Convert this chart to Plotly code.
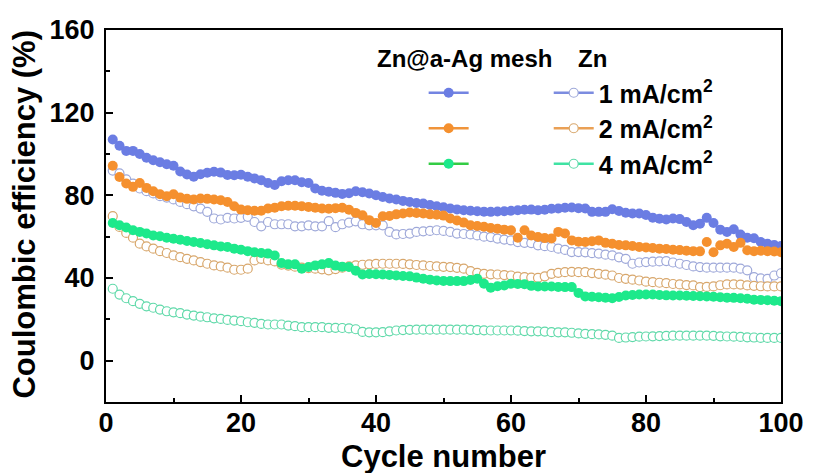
import plotly.graph_objects as go

cycles = list(range(1, 101))

# Zn@a-Ag mesh (filled markers)
ag_1mA = [107, 104, 101.5, 101.5, 100, 98.2, 97, 96, 95, 94.3,
          91.5, 90.1, 89, 90.2, 90.9, 91.4, 91, 89.8, 89.7, 90,
          89, 88.2, 87.3, 86, 85, 86.8, 87.3, 87.3, 86.3, 86,
          83.3, 82.2, 81.7, 81.2, 80.7, 81, 82, 81.5, 80.9, 80,
          79.2, 78.5, 78, 77.3, 76.8, 76.3, 76, 75.3, 74.7, 74.2,
          73.6, 73.2, 72.8, 72.5, 72.3, 72.1, 72, 72.2, 72.3, 72.5,
          72.8, 73, 73.1, 72.8, 73, 73.5, 73.6, 74, 74.1, 73.8,
          73.6, 72, 72, 72, 73.3, 72.4, 71.6, 71.2, 71.2, 70.5,
          69.2, 68.7, 68.3, 68.8, 68.5, 67.1, 65.5, 66.3, 69.1, 66.6,
          63.4, 62.3, 63.6, 61, 59.5, 59.2, 57.4, 56.6, 56, 55.5]
ag_2mA = [94.3, 88.9, 85.7, 84.1, 86, 83.6, 82, 80.5, 79.6, 80.5,
          78.9, 78.3, 78, 78.5, 78.3, 78, 77.6, 76.8, 74.7, 73.1,
          72.8, 72.5, 72.5, 73.6, 74, 74.7, 75, 75, 74.7, 74.4,
          74, 73.6, 73.5, 73.8, 74, 73, 71.5, 70.4, 68, 66.6,
          69.9, 70, 70.8, 71.2, 71.7, 71.5, 71.2, 70.8, 70.6, 70.2,
          68.8, 67.8, 66.8, 65.5, 65.2, 64.8, 64.2, 63.8, 63.4, 63.1,
          59.5, 63.1, 60.6, 59.8, 59.3, 59.1, 62.3, 61.5, 58.2, 57.6,
          57.4, 57.8, 58.2, 57, 56.6, 56, 55.8, 55.5, 55, 54.8,
          54.5, 54.2, 54, 53.7, 53.5, 53.2, 53, 52.9, 57.4, 52.5,
          55.8, 56.6, 55, 57, 53.4, 53, 53.2, 53, 52.8, 52.5]
ag_4mA = [66.6, 65.5, 64.4, 63.1, 62.3, 61.5, 60.6, 60.2, 59.5, 59,
          58.5, 57.9, 57.4, 56.9, 56.3, 55.8, 55.3, 55, 54.2, 53.7,
          53, 52.5, 52.1, 51.8, 50.9, 47.2, 46.6, 46.6, 44.5, 45.3,
          46.1, 46.6, 47.2, 46, 45.5, 45.3, 43.5, 41.7, 41.9, 41.8,
          41.7, 41.5, 41.2, 41, 40.8, 40.2, 39.6, 39.2, 38.8, 38.6,
          38.5, 38.5, 38.5, 39, 39.6, 37.2, 35.3, 36, 36.4, 37.2,
          37.1, 37, 36.2, 35.9, 35.9, 35.9, 35.7, 35.6, 35.6, 32.8,
          31.1, 30.9, 30.7, 30.5, 30.2, 30.8, 31.5, 31.8, 32, 32,
          32, 31.8, 31.6, 31.5, 31.5, 31.4, 31.3, 31.2, 31.1, 30.9,
          30.7, 30.5, 30.4, 30.2, 30, 29.5, 29.4, 29.2, 29, 28.8]

# Bare Zn (open markers)
zn_1mA = [92, 90.6, 87.7, 85.7, 83.3, 82, 80.9, 79.6, 78.9, 78,
          76.8, 75.7, 74.7, 73.6, 72, 68.8, 68.3, 69.1, 68.8, 69.1,
          69.6, 67.1, 65, 67.1, 66, 66, 66, 65, 65, 65.5,
          65, 65, 67.5, 64.6, 66, 66.8, 67.4, 66, 65.5, 65.5,
          65.5, 62.3, 61.1, 61.3, 61.5, 62.3, 62.6, 62.8, 63.1, 62.8,
          62.3, 61.5, 61.3, 61.1, 60.6, 60, 59.8, 59.1, 58.6, 58.2,
          57.4, 57, 56.9, 55.8, 55.4, 55, 54.2, 53.6, 52.5, 52.5,
          52.4, 52, 51.8, 51.3, 50.9, 50, 49.3, 46.9, 47.5, 47.7,
          47.9, 48, 48.2, 47.5, 46.9, 46.3, 45.6, 45.3, 45, 45,
          45, 45, 45, 44.5, 43.7, 40.4, 39.8, 39.6, 41.2, 42.3]
zn_2mA = [69.9, 64.7, 61.8, 59.5, 56.6, 55.3, 54.2, 53, 52.1, 50.9,
          50.1, 49.3, 48.5, 47.7, 46.9, 46.1, 45.6, 45, 44, 44,
          44.5, 48.5, 49.3, 48.5, 48, 46.5, 46, 45.5, 45, 44.8,
          44.5, 44.2, 43.7, 44.3, 45, 45.6, 46.1, 46.4, 46.6, 46.8,
          46.9, 46.9, 46.9, 46.8, 46.6, 46.3, 46.1, 45.8, 45.6, 45.4,
          45.3, 44.9, 44.5, 43.3, 42.5, 42, 41.8, 41.7, 41.4, 41.2,
          40.7, 40.4, 40.2, 40.1, 40.8, 42, 42.5, 42.8, 43, 42.8,
          42.8, 42.4, 42, 41.6, 41.2, 40, 39.6, 39.2, 38.8, 38.2,
          38, 37.7, 37.5, 37.1, 36.9, 36.6, 36.4, 35.6, 35.7, 35.9,
          36.5, 36.9, 36.9, 36.8, 36.4, 36.2, 36, 35.9, 35.9, 35.9]
zn_4mA = [34.8, 32, 30.2, 28.8, 27.5, 26.3, 25.6, 24.7, 23.9, 23.4,
          23, 22.3, 21.8, 21.3, 21, 20.5, 20.2, 19.7, 19.4, 19.1,
          18.6, 18.3, 17.8, 17.5, 17.5, 17.5, 17, 16.7, 16.2, 16.2,
          16.2, 16.2, 15.9, 15.9, 15.8, 15.6, 15.2, 13.9, 13.7, 13.7,
          13.8, 14.2, 14.6, 14.8, 14.9, 15, 15, 15, 15, 15,
          15, 15, 15, 14.9, 14.8, 14.7, 14.6, 14.6, 14.6, 14.6,
          14.5, 14.3, 14.2, 14.2, 14.1, 13.8, 13.7, 13.7, 13.5, 13.2,
          13, 12.8, 12.7, 12.5, 12.1, 11, 11.2, 11.4, 11.6, 11.7,
          11.8, 11.9, 12, 12.1, 12.1, 12.1, 12.1, 12.1, 12.1, 12,
          11.8, 11.7, 11.6, 11.5, 11.3, 11.2, 11, 11, 11, 11]

current_labels = ["1 mA/cm<sup>2</sup>", "2 mA/cm<sup>2</sup>", "4 mA/cm<sup>2</sup>"]

ag_series = [ag_1mA, ag_2mA, ag_4mA]
zn_series = [zn_1mA, zn_2mA, zn_4mA]
ag_colors = ["#6b7de3", "#f5902e", "#1de98b"]
ag_line_colors = ["#7384e2", "#f0943a", "#33cc44"]
zn_colors = ["#9ea8d9", "#d8a76c", "#5fd9a9"]
zn_line_colors = ["#7c8ce0", "#eaa055", "#3fe3a3"]

FONT = "Liberation Sans, Arial, sans-serif"

# plot-area geometry in pixels, used to place the headers and titles
L, R, T, B = 106, 30, 30, 71
W, H = 816, 473
PW, PH = W - L - R, H - T - B


def px_x(px):
    return (px - L) / PW


def px_y(py):
    return (H - B - py) / PH


fig = go.Figure()

# open markers first so the filled ones sit on top
for ys, col in zip(zn_series, zn_colors):
    fig.add_trace(go.Scatter(
        x=cycles, y=ys, mode="markers", showlegend=False,
        marker=dict(symbol="circle", size=9, color="white",
                    line=dict(color=col, width=1.2)),
    ))
for ys, col in zip(ag_series, ag_colors):
    fig.add_trace(go.Scatter(
        x=cycles, y=ys, mode="markers", showlegend=False,
        marker=dict(symbol="circle", size=10, color=col, line=dict(width=0)),
    ))

# legend entries (line + marker samples)
for col, lcol in zip(ag_colors, ag_line_colors):
    fig.add_trace(go.Scatter(
        x=[None], y=[None], mode="lines+markers", name="", legend="legend",
        line=dict(color=lcol, width=2.5),
        marker=dict(symbol="circle", size=10, color=col),
    ))
for lab, col, lcol in zip(current_labels, zn_colors, zn_line_colors):
    fig.add_trace(go.Scatter(
        x=[None], y=[None], mode="lines+markers", name=lab, legend="legend2",
        line=dict(color=lcol, width=2.5),
        marker=dict(symbol="circle", size=9, color="white",
                    line=dict(color=col, width=1.2)),
    ))

tick_font = dict(family=FONT, size=27, color="black", weight="bold")
axis_common = dict(
    showline=True, linecolor="black", linewidth=2, mirror=True,
    ticks="inside", ticklen=7, tickwidth=1.5, tickcolor="black",
    showgrid=False, zeroline=False, tickfont=tick_font,
)
minor_common = dict(ticks="inside", ticklen=4, tickwidth=1.5, tickcolor="black")
legend_font = dict(family=FONT, size=25, color="black", weight="bold")

fig.update_layout(
    width=W, height=H,
    margin=dict(l=L, r=R, t=T, b=B),
    paper_bgcolor="white", plot_bgcolor="white",
    font=dict(family=FONT, color="black"),
    xaxis=dict(
        range=[0, 100], tickvals=[0, 20, 40, 60, 80, 100],
        minor=dict(tickvals=[10, 30, 50, 70, 90], **minor_common),
        ticklabelstandoff=-4,
        **axis_common,
    ),
    yaxis=dict(
        range=[-20, 160], tickvals=[0, 40, 80, 120, 160],
        minor=dict(tickvals=[-20, 20, 60, 100, 140], **minor_common),
        ticklabelstandoff=4,
        **axis_common,
    ),
    legend=dict(
        x=px_x(426), y=px_y(70), xanchor="left", yanchor="top",
        bgcolor="rgba(0,0,0,0)", borderwidth=0, itemwidth=40, font=legend_font,
    ),
    legend2=dict(
        x=px_x(552), y=px_y(70), xanchor="left", yanchor="top",
        bgcolor="rgba(0,0,0,0)", borderwidth=0, itemwidth=40, font=legend_font,
    ),
    annotations=[
        dict(text="Zn@a-Ag mesh", xref="paper", yref="paper",
             x=px_x(377), y=px_y(58), xanchor="left", yanchor="middle",
             showarrow=False, font=dict(family=FONT, size=24, color="black", weight="bold")),
        dict(text="Zn", xref="paper", yref="paper",
             x=px_x(579), y=px_y(58), xanchor="left", yanchor="middle",
             showarrow=False, font=dict(family=FONT, size=24, color="black", weight="bold")),
        dict(text="Cycle number", xref="paper", yref="paper",
             x=0.5, y=px_y(456), xanchor="center", yanchor="middle",
             showarrow=False, font=dict(family=FONT, size=31, color="black", weight="bold")),
        dict(text="Coulombic efficiency (%)", xref="paper", yref="paper",
             x=px_x(23), y=px_y(214), xanchor="center", yanchor="middle", textangle=-90,
             showarrow=False, font=dict(family=FONT, size=31, color="black", weight="bold")),
    ],
)

fig.write_html("out.html")
